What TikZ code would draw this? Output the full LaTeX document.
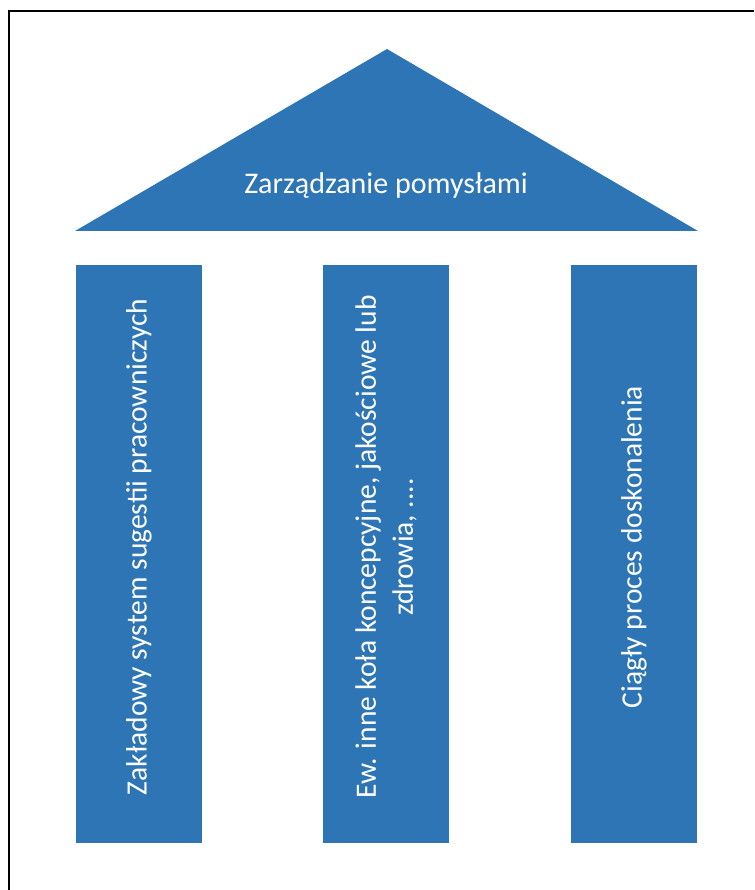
\documentclass[tikz,border=0pt]{standalone}
\usepackage{fontspec}
\setmainfont{Carlito}
\definecolor{pillarblue}{RGB}{46,117,182}

\begin{document}
\begin{tikzpicture}[
        x=1pt, y=-1pt,
        roof/.style={fill=pillarblue},
        title/.style={text=white, font=\fontsize{30}{36}\selectfont, inner sep=0pt},
        pillar/.style={rectangle, fill=pillarblue, minimum width=126pt, minimum height=578pt, inner sep=0pt},
        pillartext/.style={rotate=90, inner sep=0pt, text=white, align=center, font=\fontsize{29.5}{37}\selectfont}
    ]
        \useasboundingbox (0,0) rectangle (754,890);

        % Frame
        \draw[line width=2pt] (9,890) -- (9,11) -- (754,11);

        % Roof
        \coordinate (apex) at (387,49);
        \coordinate (eaveL) at (75,231);
        \coordinate (eaveR) at (698,231);
        \fill[roof] (eaveL) -- (apex) -- (eaveR) -- cycle;
        \node[title] (roofText) at (386,186) {Zarządzanie pomysłami};

        % Pillars
        \node[pillar] (suggest) at (139,554) {};
        \node[pillar] (circles) at (386,554) {};
        \node[pillar] (improve) at (634,554) {};

        % Pillar texts
        \node[pillartext] (suggestText) at ([yshift=7pt]suggest.center) {Zakładowy system sugestii pracowniczych};
        \node[pillartext] (circlesText) at ([yshift=7pt]circles.center) {Ew. inne koła koncepcyjne, jakościowe lub\\zdrowia, ....};
        \node[pillartext] (improveText) at ([yshift=7pt]improve.center) {Ciągły proces doskonalenia};
    \end{tikzpicture}
\end{document}
